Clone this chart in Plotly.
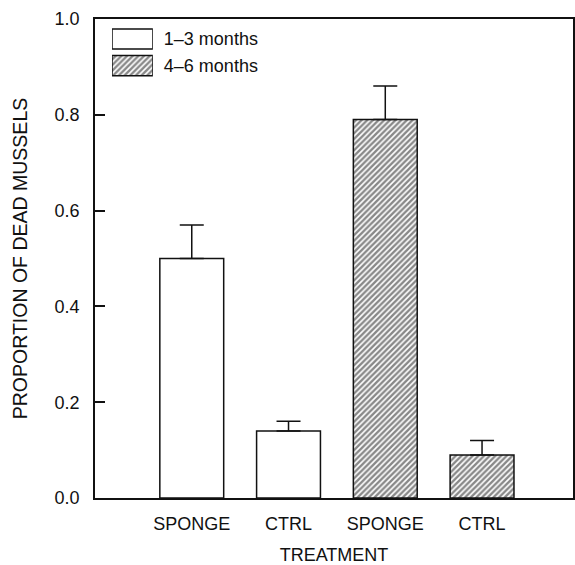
import plotly.graph_objects as go

# ---- data ----
positions = [1, 2, 3, 4]
tick_labels = ["SPONGE", "CTRL", "SPONGE", "CTRL"]
series_names = ["1\u20133 months", "4\u20136 months"]
young_x = [1, 2]
young_vals = [0.50, 0.14]
young_err = [0.07, 0.02]
old_x = [3, 4]
old_vals = [0.79, 0.09]
old_err = [0.07, 0.03]
y_ticks = [0.0, 0.2, 0.4, 0.6, 0.8, 1.0]

FONT = "Liberation Sans, Arial, sans-serif"
BLACK = "#111111"
hatch = dict(shape="/", fgcolor=BLACK, bgcolor="white", size=4, solidity=0.6)

fig = go.Figure()

fig.add_trace(go.Bar(
    x=young_x, y=young_vals, width=0.66, name=series_names[0],
    marker=dict(color="white", line=dict(color=BLACK, width=1.5)),
    error_y=dict(type="data", array=young_err, symmetric=False, arrayminus=[0, 0],
                 color=BLACK, thickness=1.5, width=12),
    showlegend=False,
))
fig.add_trace(go.Bar(
    x=old_x, y=old_vals, width=0.66, name=series_names[1],
    marker=dict(color="white", line=dict(color=BLACK, width=1.5), pattern=hatch),
    error_y=dict(type="data", array=old_err, symmetric=False, arrayminus=[0, 0],
                 color=BLACK, thickness=1.5, width=12),
    showlegend=False,
))

# legend swatches drawn as a tiny horizontal bar chart on an overlay axis
fig.add_trace(go.Bar(
    y=[series_names[0]], x=[1], orientation="h", width=0.76,
    marker=dict(color="white", line=dict(color=BLACK, width=1.5)),
    xaxis="x2", yaxis="y2", showlegend=False, hoverinfo="skip",
))
fig.add_trace(go.Bar(
    y=[series_names[1]], x=[1], orientation="h", width=0.76,
    marker=dict(color="white", line=dict(color=BLACK, width=1.5), pattern=hatch),
    xaxis="x2", yaxis="y2", showlegend=False, hoverinfo="skip",
))

fig.update_layout(
    width=575, height=565,
    margin=dict(l=95, r=2, t=19, b=67),
    paper_bgcolor="white", plot_bgcolor="white",
    font=dict(family=FONT, size=18, color=BLACK),
    barmode="overlay",
    xaxis=dict(
        range=[0, 4.94], tickmode="array", tickvals=positions, ticktext=tick_labels,
        showgrid=False, zeroline=False, showline=True, linecolor=BLACK, linewidth=1.5,
        mirror=True, ticks="", ticklabelstandoff=9, automargin=False,
        title=dict(text="TREATMENT", standoff=16, font=dict(size=18)),
    ),
    yaxis=dict(
        range=[0, 1.0], tickmode="array", tickvals=y_ticks, tickformat=".1f",
        showgrid=False, zeroline=False, showline=True, linecolor=BLACK, linewidth=1.5,
        mirror=True, ticks="inside", ticklen=10, tickwidth=1.5, tickcolor=BLACK,
        ticklabelstandoff=10, automargin=False,
        title=dict(text="PROPORTION OF DEAD MUSSELS", standoff=22, font=dict(size=19.5)),
    ),
    xaxis2=dict(domain=[0.0356, 0.121], range=[0, 1], anchor="y2",
                showgrid=False, zeroline=False, showline=False, showticklabels=False,
                fixedrange=True, automargin=False),
    yaxis2=dict(domain=[0.875, 0.986], anchor="x2", side="right",
                autorange="reversed", showgrid=False, zeroline=False, showline=False,
                ticks="", ticklabelstandoff=10, fixedrange=True, automargin=False,
                tickfont=dict(size=18)),
)

fig.write_html("out.html", config={"displayModeBar": False},
               post_script="document.body.style.margin='0px';")
